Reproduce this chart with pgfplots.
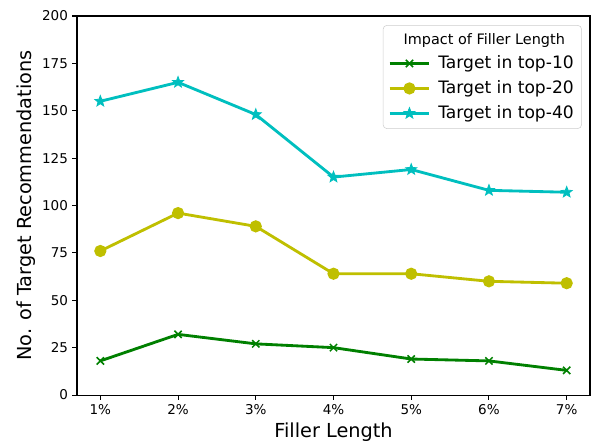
\documentclass[border=0pt]{standalone}
\usepackage{fontspec}
\setmainfont{DejaVu Sans}
\usepackage{pgfplots}
\pgfplotsset{compat=1.18}
\definecolor{mgreen}{rgb}{0,0.5,0}
\definecolor{myellow}{rgb}{0.75,0.75,0}
\definecolor{mcyan}{rgb}{0,0.75,0.75}
\pgfdeclareplotmark{fstar}{%
  \pgfpathmoveto{\pgfqpointpolar{90}{\pgfplotmarksize}}%
  \pgfpathlineto{\pgfqpointpolar{126}{0.42\pgfplotmarksize}}%
  \pgfpathlineto{\pgfqpointpolar{162}{\pgfplotmarksize}}%
  \pgfpathlineto{\pgfqpointpolar{198}{0.42\pgfplotmarksize}}%
  \pgfpathlineto{\pgfqpointpolar{234}{\pgfplotmarksize}}%
  \pgfpathlineto{\pgfqpointpolar{270}{0.42\pgfplotmarksize}}%
  \pgfpathlineto{\pgfqpointpolar{306}{\pgfplotmarksize}}%
  \pgfpathlineto{\pgfqpointpolar{342}{0.42\pgfplotmarksize}}%
  \pgfpathlineto{\pgfqpointpolar{18}{\pgfplotmarksize}}%
  \pgfpathlineto{\pgfqpointpolar{54}{0.42\pgfplotmarksize}}%
  \pgfpathclose
  \pgfusepathqfillstroke}
\begin{document}
\begin{tikzpicture}[x=0.777pt,y=0.777pt]
\begin{axis}[
  scale only axis,
  width=398.6pt, height=294.5pt,
  xmin=0.7, xmax=7.3, ymin=0, ymax=200,
  xtick={1,2,3,4,5,6,7},
  xticklabels={1\%,2\%,3\%,4\%,5\%,6\%,7\%},
  ytick={0,25,50,75,100,125,150,175,200},
  tick align=outside, tick pos=left,
  major tick length=3.5pt,
  tick style={black, line width=0.8pt},
  axis line style={line width=0.8pt},
  /pgf/number format/assume math mode=true,
  ticklabel style={font=\fontsize{10.5}{12}\selectfont},
  xlabel={Filler Length}, ylabel={No. of Target Recommendations},
  label style={font=\fontsize{15}{18}\selectfont},
  xlabel style={yshift=0pt},
  ylabel style={yshift=-2pt},
  legend cell align=left,
  legend style={font=\fontsize{13.3}{16}\selectfont, draw=black!20, rounded corners=3pt, at={(0.984,0.976)}, anchor=north east, inner sep=4pt, row sep=3.8pt, column sep=4pt},
  legend image code/.code={\draw[mark repeat=2,mark phase=2,#1] plot coordinates {(0cm,0cm) (0.54cm,0cm) (1.08cm,0cm)};},
]
\addlegendimage{empty legend}
\addlegendentry{\hspace{-51pt}\makebox[0pt][l]{\fontsize{11.2}{14}\selectfont Impact of Filler Length}}
\addplot[mgreen, line width=2.2pt, mark=x, mark size=4pt, mark options={line width=1.2pt}] coordinates {(1,18)(2,32)(3,27)(4,25)(5,19)(6,18)(7,13)};
\addlegendentry{Target in top-10}
\addplot[myellow, line width=2.2pt, mark=*, mark size=3.6pt] coordinates {(1,76)(2,96)(3,89)(4,64)(5,64)(6,60)(7,59)};
\addlegendentry{Target in top-20}
\addplot[mcyan, line width=2.2pt, mark=fstar, mark size=4.5pt, mark options={line width=0.6pt}] coordinates {(1,155)(2,165)(3,148)(4,115)(5,119)(6,108)(7,107)};
\addlegendentry{Target in top-40}
\end{axis}
\pgfresetboundingbox
\path (current axis.south west) ++(-77,-49) coordinate (bl);
\path (current axis.north east) ++(3,16) coordinate (tr);
\path (bl) rectangle (tr);
\end{tikzpicture}
\end{document}
